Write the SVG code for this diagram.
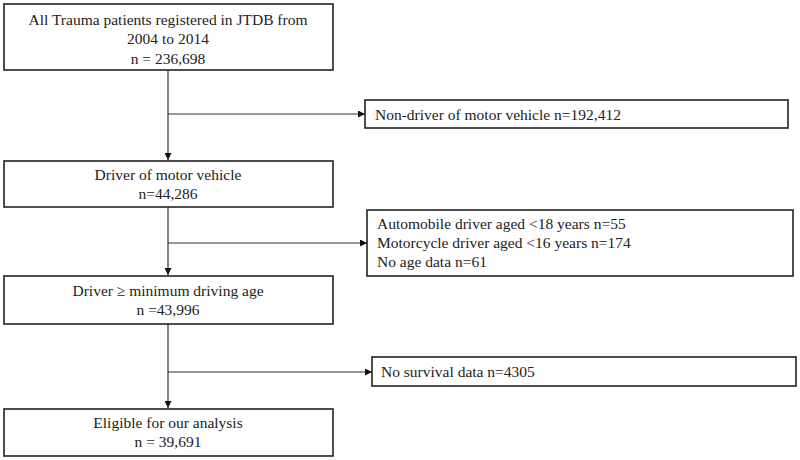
<svg xmlns="http://www.w3.org/2000/svg" width="800" height="460" viewBox="0 0 800 460">
<style>
.box{fill:#fff;stroke:#222;stroke-width:1.6}
.t{font-family:"Liberation Serif","Times New Roman",serif;font-size:15.5px;fill:#222}
.c{text-anchor:middle}
.ln{stroke:#333;stroke-width:1.2;fill:none}
</style>
<defs>
<marker id="ah" viewBox="0 0 10 10" refX="10" refY="5" markerWidth="7" markerHeight="7" markerUnits="userSpaceOnUse" orient="auto">
<path d="M0,0 L10,5 L0,10 z" fill="#111"/>
</marker>
</defs>
<rect width="800" height="460" fill="#fff"/>
<g id="connectors">
<line class="ln" x1="168" y1="70" x2="168" y2="160" marker-end="url(#ah)"/>
<line class="ln" x1="168" y1="114" x2="365" y2="114" marker-end="url(#ah)"/>
<line class="ln" x1="168" y1="207" x2="168" y2="275" marker-end="url(#ah)"/>
<line class="ln" x1="168" y1="243" x2="367" y2="243" marker-end="url(#ah)"/>
<line class="ln" x1="168" y1="324" x2="168" y2="408" marker-end="url(#ah)"/>
<line class="ln" x1="168" y1="372" x2="372" y2="372" marker-end="url(#ah)"/>
</g>
<g id="n1">
<rect class="box" x="4" y="4" width="329" height="66"/>
<text class="t c" x="168" y="25">All Trauma patients registered in JTDB from</text>
<text class="t c" x="168" y="44">2004 to 2014</text>
<text class="t c" x="168" y="64">n = 236,698</text>
</g>
<g id="n2">
<rect class="box" x="365" y="100" width="423" height="28"/>
<text class="t" x="375" y="120">Non-driver of motor vehicle n=192,412</text>
</g>
<g id="n3">
<rect class="box" x="4" y="161" width="329" height="46"/>
<text class="t c" x="168" y="180">Driver of motor vehicle</text>
<text class="t c" x="168" y="199">n=44,286</text>
</g>
<g id="n4">
<rect class="box" x="367" y="210" width="426" height="66"/>
<text class="t" x="377" y="229">Automobile driver aged &lt;18 years n=55</text>
<text class="t" x="377" y="248">Motorcycle driver aged &lt;16 years n=174</text>
<text class="t" x="377" y="267">No age data n=61</text>
</g>
<g id="n5">
<rect class="box" x="4" y="276" width="329" height="48"/>
<text class="t c" x="168" y="296">Driver ≥ minimum driving age</text>
<text class="t c" x="168" y="315">n =43,996</text>
</g>
<g id="n6">
<rect class="box" x="372" y="357" width="424" height="29"/>
<text class="t" x="381" y="377">No survival data n=4305</text>
</g>
<g id="n7">
<rect class="box" x="4" y="409" width="329" height="47"/>
<text class="t c" x="168" y="428">Eligible for our analysis</text>
<text class="t c" x="168" y="447">n = 39,691</text>
</g>
</svg>
